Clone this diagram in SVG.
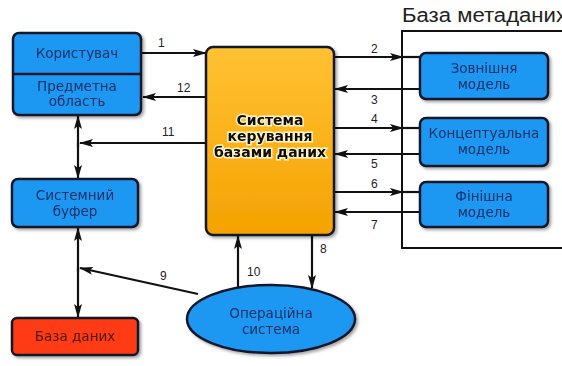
<svg xmlns="http://www.w3.org/2000/svg" width="562" height="366" viewBox="0 0 562 366">
  <defs>
    <style>
      .box { fill: #1e98f2; stroke: #14182a; stroke-width: 2.5; }
      .lbl { font-family: "DejaVu Sans", "Liberation Sans", sans-serif; font-size: 13.5px; fill: #17306a; text-anchor: middle; }
      .core { font-family: "DejaVu Sans", "Liberation Sans", sans-serif; font-size: 14px; font-weight: bold; fill: #111; text-anchor: middle; stroke: #fff3c8; stroke-width: 3; paint-order: stroke; }
      .num { font-family: "Liberation Sans", sans-serif; font-size: 12px; fill: #222; }
      .ln { stroke: #111; stroke-width: 2.2; fill: none; }
    </style>
    <marker id="ah" viewBox="0 0 14 8" refX="13" refY="4" markerWidth="14" markerHeight="8" markerUnits="userSpaceOnUse" orient="auto">
      <path d="M0,0 L14,4 L0,8 L3,4 Z" fill="#111"/>
    </marker>
    <linearGradient id="gold" x1="0" y1="0" x2="0" y2="1">
      <stop offset="0" stop-color="#ffc233"/>
      <stop offset="0.5" stop-color="#fbb21a"/>
      <stop offset="1" stop-color="#f4a200"/>
    </linearGradient>
    <filter id="sh" x="-10%" y="-10%" width="130%" height="130%">
      <feDropShadow dx="2" dy="2" stdDeviation="1.5" flood-color="#000" flood-opacity="0.35"/>
    </filter>
  </defs>
  <rect width="562" height="366" fill="#fff"/>

  <!-- metadata frame -->
  <g id="metadata">
    <text x="402" y="22" font-family="'Liberation Sans',Arial,sans-serif" font-size="20" fill="#222" textLength="165" lengthAdjust="spacingAndGlyphs">База метаданих</text>
    <path d="M562,31 L402,31 L402,248 L562,248" fill="none" stroke="#111" stroke-width="2"/>
  </g>

  <!-- connectors -->
  <g id="connectors">
    <line class="ln" x1="142" y1="53" x2="206" y2="53" marker-end="url(#ah)"/>
    <line class="ln" x1="206" y1="97" x2="143" y2="97" marker-end="url(#ah)"/>
    <line class="ln" x1="206" y1="143" x2="80" y2="143" marker-end="url(#ah)"/>
    <line class="ln" x1="78" y1="147" x2="78" y2="116" marker-end="url(#ah)"/>
    <line class="ln" x1="78" y1="143" x2="78" y2="178" marker-end="url(#ah)"/>
    <line class="ln" x1="78" y1="272" x2="78" y2="228" marker-end="url(#ah)"/>
    <line class="ln" x1="78" y1="268" x2="78" y2="317" marker-end="url(#ah)"/>
    <line class="ln" x1="198" y1="294" x2="80" y2="268" marker-end="url(#ah)"/>
    <line class="ln" x1="238" y1="287" x2="238" y2="236" marker-end="url(#ah)"/>
    <line class="ln" x1="312" y1="236" x2="312" y2="288" marker-end="url(#ah)"/>
    <!-- links to models -->
    <line class="ln" x1="334" y1="57" x2="403" y2="57" marker-end="url(#ah)"/>
    <line class="ln" x1="403" y1="57" x2="420" y2="57"/>
    <line class="ln" x1="420" y1="89" x2="335" y2="89" marker-end="url(#ah)"/>
    <line class="ln" x1="334" y1="128" x2="403" y2="128" marker-end="url(#ah)"/>
    <line class="ln" x1="403" y1="128" x2="420" y2="128"/>
    <line class="ln" x1="420" y1="154" x2="335" y2="154" marker-end="url(#ah)"/>
    <line class="ln" x1="334" y1="192" x2="403" y2="192" marker-end="url(#ah)"/>
    <line class="ln" x1="403" y1="192" x2="420" y2="192"/>
    <line class="ln" x1="420" y1="212" x2="335" y2="212" marker-end="url(#ah)"/>
    <!-- numbers -->
    <text class="num" x="158" y="47">1</text>
    <text class="num" x="177" y="92">12</text>
    <text class="num" x="162" y="136">11</text>
    <text class="num" x="160" y="280">9</text>
    <text class="num" x="247" y="276">10</text>
    <text class="num" x="320" y="253">8</text>
    <text class="num" x="371" y="53">2</text>
    <text class="num" x="371" y="104">3</text>
    <text class="num" x="371" y="123">4</text>
    <text class="num" x="371" y="168">5</text>
    <text class="num" x="371" y="188">6</text>
    <text class="num" x="371" y="229">7</text>
  </g>

  <g id="user" filter="url(#sh)">
    <rect class="box" x="13" y="33" width="128" height="82" rx="6"/>
    <line x1="13" y1="74" x2="141" y2="74" stroke="#14182a" stroke-width="2.5"/>
    <text class="lbl" x="77" y="58">Користувач</text>
    <text class="lbl" x="77" y="91">Предметна</text>
    <text class="lbl" x="77" y="106">область</text>
  </g>

  <g id="buffer" filter="url(#sh)">
    <rect class="box" x="12" y="179" width="126" height="48" rx="6"/>
    <text class="lbl" x="75" y="200">Системний</text>
    <text class="lbl" x="75" y="216">буфер</text>
  </g>

  <g id="database" filter="url(#sh)">
    <rect x="12" y="318" width="126" height="37" rx="5" fill="#ff3a12" stroke="#14182a" stroke-width="2.5"/>
    <text class="lbl" x="75" y="341" style="fill:#4a1c10">База даних</text>
  </g>

  <g id="dbms" filter="url(#sh)">
    <rect x="206" y="47" width="128" height="188" rx="7" fill="url(#gold)" stroke="#14182a" stroke-width="2.5"/>
    <text class="core" x="270" y="125">Система</text>
    <text class="core" x="270" y="141">керування</text>
    <text class="core" x="270" y="157">базами даних</text>
  </g>

  <g id="os" filter="url(#sh)">
    <ellipse class="box" cx="271" cy="319" rx="84" ry="34"/>
    <text class="lbl" x="271" y="318">Операційна</text>
    <text class="lbl" x="271" y="334">система</text>
  </g>

  <g id="external-model" filter="url(#sh)">
    <rect class="box" x="420" y="53" width="128" height="46" rx="6"/>
    <text class="lbl" x="484" y="73">Зовнішня</text>
    <text class="lbl" x="484" y="89">модель</text>
  </g>

  <g id="conceptual-model" filter="url(#sh)">
    <rect class="box" x="420" y="118" width="128" height="48" rx="6"/>
    <text class="lbl" x="484" y="138">Концептуальна</text>
    <text class="lbl" x="484" y="154">модель</text>
  </g>

  <g id="final-model" filter="url(#sh)">
    <rect class="box" x="420" y="182" width="128" height="45" rx="6"/>
    <text class="lbl" x="484" y="201">Фінішна</text>
    <text class="lbl" x="484" y="217">модель</text>
  </g>
</svg>
